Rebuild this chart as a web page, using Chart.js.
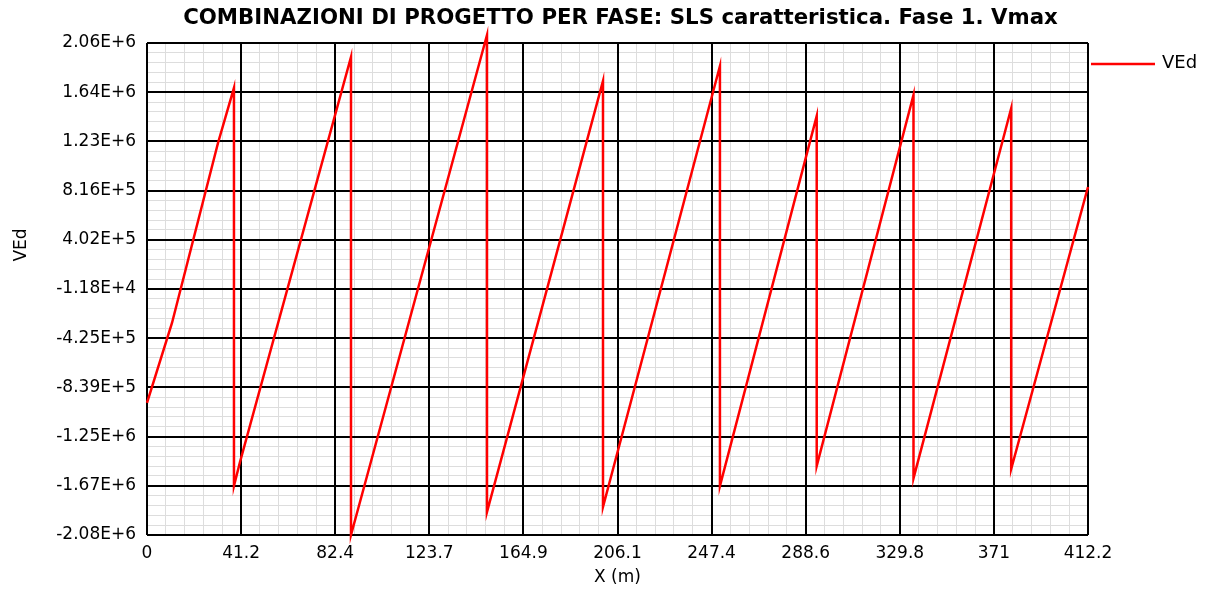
<!DOCTYPE html>
<html>
<head>
<meta charset="utf-8">
<script src="https://cdn.jsdelivr.net/npm/chart.js@4/dist/chart.umd.min.js"></script>
<style>
  html, body { margin: 0; padding: 0; background: #ffffff; }
  #wrap { width: 1211px; height: 594px; }
</style>
</head>
<body>
<div id="wrap"><canvas id="c" width="1211" height="594"></canvas></div>
<script>
// Texts
const chartTitle = 'COMBINAZIONI DI PROGETTO PER FASE: SLS caratteristica. Fase 1. Vmax';
const seriesName = 'VEd';
const xAxisTitle = 'X (m)';
const yAxisTitle = 'VEd';

// Shear envelope along the deck: station (m) and VEd (N)
const positions = [0, 10.95, 31.1, 38.1, 38.1, 40.74, 89.37, 89.37, 148.95, 148.95,
                   199.77, 199.77, 251.0, 251.0, 293.4, 293.4, 335.8, 335.8, 378.6, 378.6, 412.25];
const shear = [-970800, -297800, 1216400, 1680000, -1669100, -1467200, 1939900, -2081000, 2125000, -1887800,
               1738000, -1845700, 1864200, -1669100, 1443600, -1500800, 1620200, -1604400, 1508400, -1526100, 846300];

// Axis ranges and tick labels
const xMin = 0, xMax = 412.25;
const yMin = -2081300, yMax = 2057700;
const xTickLabels = ['0', '41.2', '82.4', '123.7', '164.9', '206.1', '247.4', '288.6', '329.8', '371', '412.2'];
const yTickLabels = ['-2.08E+6', '-1.67E+6', '-1.25E+6', '-8.39E+5', '-4.25E+5', '-1.18E+4',
                     '4.02E+5', '8.16E+5', '1.23E+6', '1.64E+6', '2.06E+6'];
const majorDivisions = 10;
const minorPerMajor = 5;

const tickFont = { family: 'DejaVu Sans', size: 17 };

function evenTicks(min, max, n) {
  const out = [];
  for (let i = 0; i <= n; i++) out.push({ value: min + (max - min) * i / n });
  return out;
}

const minorGrid = { color: '#dddddd', lineWidth: 1, drawTicks: false };
const majorGrid = { color: '#000000', lineWidth: 2, drawTicks: false };

const textPlugin = {
  id: 'chartTexts',
  afterDraw(chart) {
    const ctx = chart.ctx;
    const area = chart.chartArea;
    ctx.save();
    ctx.fillStyle = '#000000';
    // title
    ctx.font = 'bold 21.3px "DejaVu Sans"';
    ctx.textAlign = 'center';
    ctx.textBaseline = 'middle';
    ctx.fillText(chartTitle, (area.left + area.right) / 2 + 3, 18);
    // x axis title
    ctx.font = '17px "DejaVu Sans"';
    ctx.fillText(xAxisTitle, (area.left + area.right) / 2, 578);
    // y axis title
    ctx.save();
    ctx.translate(22, 245);
    ctx.rotate(-Math.PI / 2);
    ctx.fillText(yAxisTitle, 0, 0);
    ctx.restore();
    // legend
    ctx.strokeStyle = '#ff0000';
    ctx.lineWidth = 2.5;
    ctx.beginPath();
    ctx.moveTo(area.right + 3, 64);
    ctx.lineTo(area.right + 67, 64);
    ctx.stroke();
    ctx.font = '18px "DejaVu Sans"';
    ctx.textAlign = 'left';
    ctx.fillText(seriesName, area.right + 74, 63);
    ctx.restore();
  }
};

new Chart(document.getElementById('c'), {
  type: 'scatter',
  data: {
    datasets: [{
      label: seriesName,
      data: positions.map((x, i) => ({ x: x, y: shear[i] })),
      showLine: true,
      borderColor: '#ff0000',
      backgroundColor: '#ff0000',
      borderWidth: 2.5,
      pointRadius: 0,
      pointHoverRadius: 0,
      tension: 0,
      fill: false,
      clip: false
    }]
  },
  options: {
    responsive: false,
    animation: false,
    devicePixelRatio: 1,
    layout: { padding: { top: 43, right: 123, bottom: 0, left: 0 } },
    plugins: { legend: { display: false }, tooltip: { enabled: false }, title: { display: false } },
    scales: {
      xMinor: {
        type: 'linear', position: 'bottom', min: xMin, max: xMax, z: -1,
        afterBuildTicks: s => { s.ticks = evenTicks(xMin, xMax, majorDivisions * minorPerMajor); },
        afterFit: s => { s.height = 0; },
        ticks: { display: false },
        grid: minorGrid,
        border: { display: false }
      },
      yMinor: {
        type: 'linear', position: 'left', min: yMin, max: yMax, z: -1,
        afterBuildTicks: s => { s.ticks = evenTicks(yMin, yMax, majorDivisions * minorPerMajor); },
        afterFit: s => { s.width = 0; },
        ticks: { display: false },
        grid: minorGrid,
        border: { display: false }
      },
      x: {
        type: 'linear', position: 'bottom', min: xMin, max: xMax,
        afterBuildTicks: s => { s.ticks = evenTicks(xMin, xMax, majorDivisions); },
        afterFit: s => { s.height = 59; },
        ticks: {
          autoSkip: false, maxRotation: 0, padding: 8, color: '#000000', font: tickFont,
          callback: (v, i) => xTickLabels[i]
        },
        grid: majorGrid,
        border: { display: false }
      },
      y: {
        type: 'linear', position: 'left', min: yMin, max: yMax,
        afterBuildTicks: s => { s.ticks = evenTicks(yMin, yMax, majorDivisions); },
        afterFit: s => { s.width = 147; },
        ticks: {
          autoSkip: false, padding: 11, color: '#000000', font: tickFont,
          callback: (v, i) => yTickLabels[i]
        },
        grid: majorGrid,
        border: { display: false }
      }
    }
  },
  plugins: [textPlugin]
});
</script>
</body>
</html>
